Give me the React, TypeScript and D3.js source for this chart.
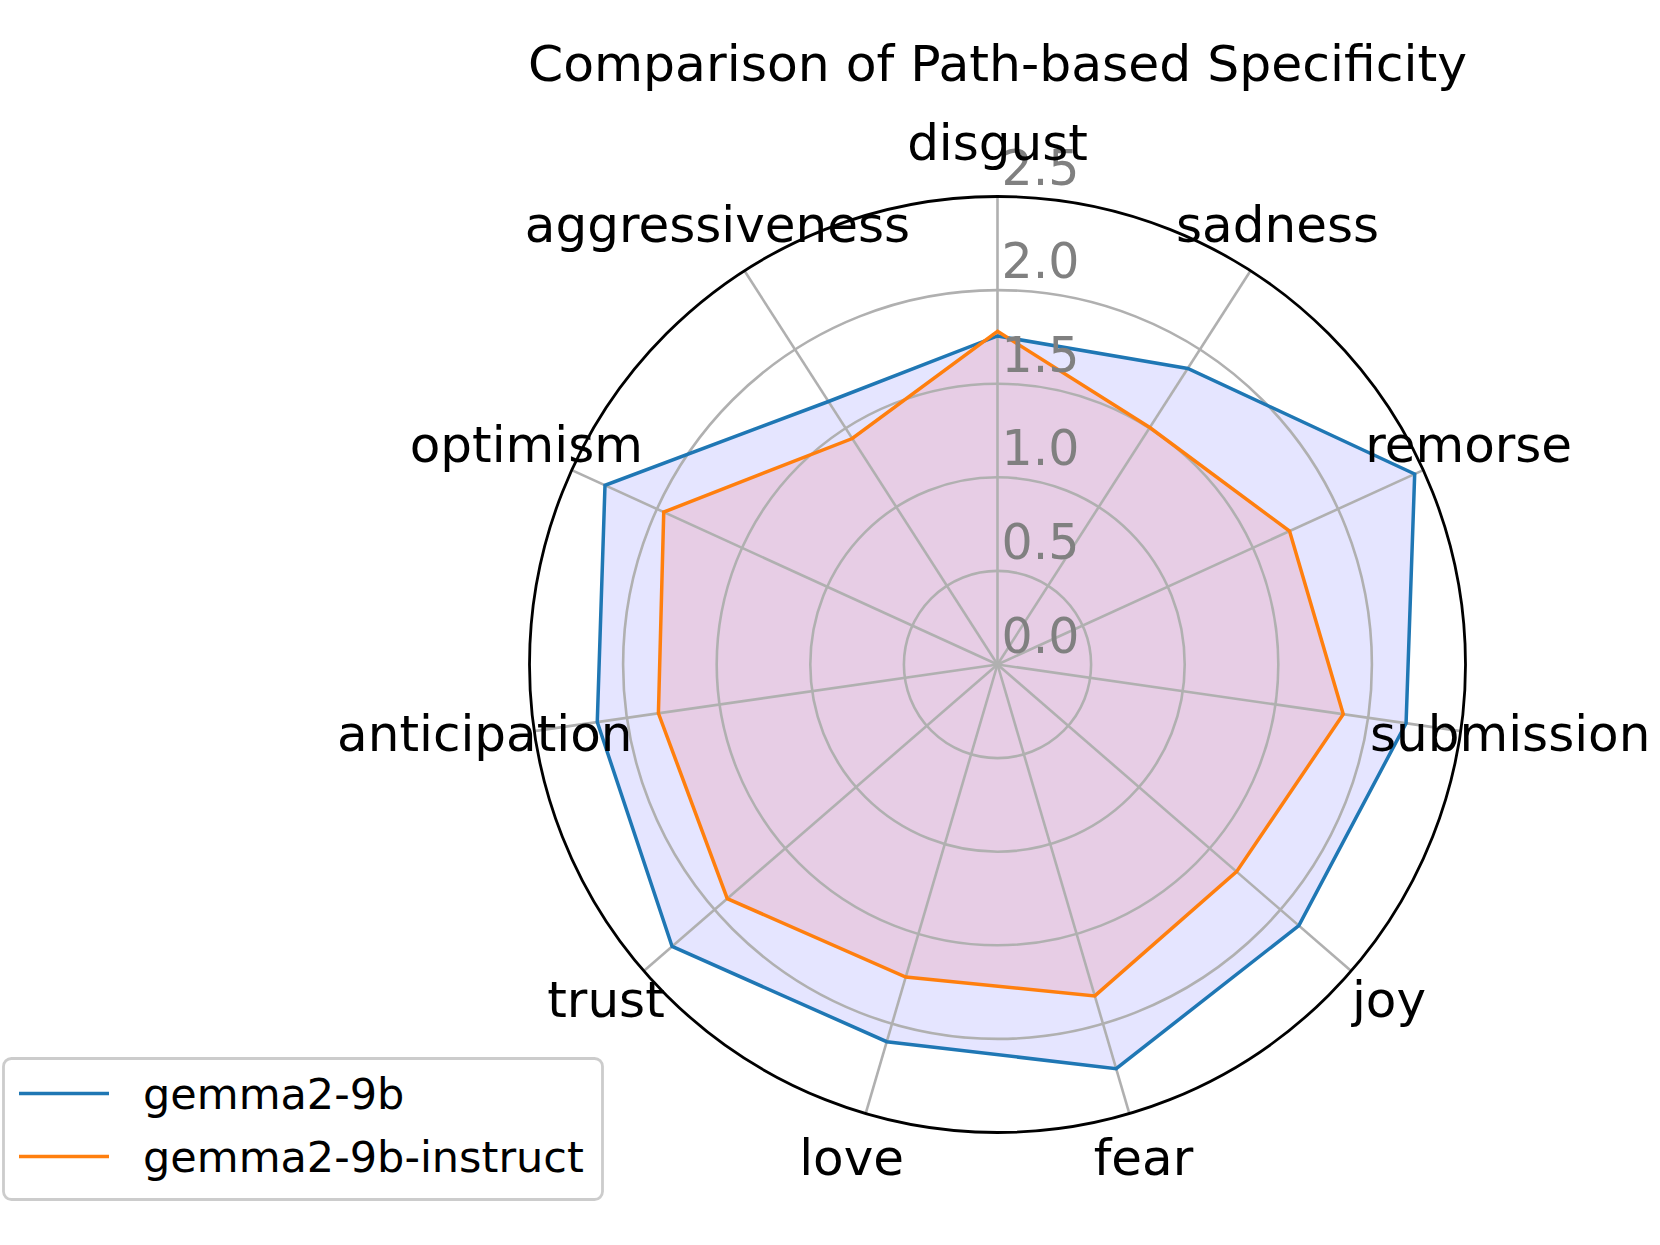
import React, { useRef, useEffect } from 'react';
import * as d3 from 'd3';

const WIDTH = 1660;
const HEIGHT = 1245;
const CX = 997.5;
const CY = 664.5;
const RADIUS = 468;
const FONT = 'DejaVu Sans, Liberation Sans, sans-serif';

const categories: string[] = [
  'disgust', 'sadness', 'remorse', 'submission', 'joy', 'fear',
  'love', 'trust', 'anticipation', 'optimism', 'aggressiveness',
];
const baseValues: number[] = [1.755, 1.88, 2.45, 2.205, 2.13, 2.25, 2.10, 2.30, 2.16, 2.305, 1.67];
const instructValues: number[] = [1.78, 1.505, 1.715, 1.866, 1.69, 1.845, 1.74, 1.91, 1.83, 1.96, 1.435];
const radialTicks: number[] = [0, 0.5, 1.0, 1.5, 2.0, 2.5];

const seriesList = [
  { name: 'gemma2-9b', values: baseValues, color: '#1f77b4', fill: 'blue' },
  { name: 'gemma2-9b-instruct', values: instructValues, color: '#ff7f0e', fill: 'red' },
];

export default function App() {
  const svgRef = useRef<SVGSVGElement>(null);

  useEffect(() => {
    if (!svgRef.current) return;
    const svg = d3.select(svgRef.current);
    svg.selectAll('*').remove();

    const rScale = d3.scaleLinear().domain([0, 2.5]).range([0, RADIUS]);
    const step = (2 * Math.PI) / categories.length;
    const angle = (i: number) => i * step;

    const g = svg.append('g').attr('transform', `translate(${CX},${CY})`);

    const radial = d3.lineRadial<number>()
      .angle((_, i) => angle(i))
      .radius(d => rScale(d))
      .curve(d3.curveLinearClosed);

    // fills (below the grid, like matplotlib patches)
    seriesList.forEach(s => {
      g.append('path')
        .datum(s.values)
        .attr('d', radial)
        .attr('fill', s.fill)
        .attr('fill-opacity', 0.1)
        .attr('stroke', 'none');
    });

    // grid rings
    g.append('g').selectAll('circle')
      .data(radialTicks.filter(t => t > 0 && t < 2.5))
      .join('circle')
      .attr('r', d => rScale(d))
      .attr('fill', 'none')
      .attr('stroke', '#b0b0b0')
      .attr('stroke-width', 2.6);

    // spokes
    g.append('g').selectAll('line')
      .data(categories)
      .join('line')
      .attr('x1', 0).attr('y1', 0)
      .attr('x2', (_, i) => rScale(2.5) * Math.sin(angle(i)))
      .attr('y2', (_, i) => -rScale(2.5) * Math.cos(angle(i)))
      .attr('stroke', '#b0b0b0')
      .attr('stroke-width', 2.6);

    // series outlines
    seriesList.forEach(s => {
      g.append('path')
        .datum(s.values)
        .attr('d', radial)
        .attr('fill', 'none')
        .attr('stroke', s.color)
        .attr('stroke-width', 3.5)
        .attr('stroke-linejoin', 'miter');
    });

    // outer frame
    g.append('circle')
      .attr('r', rScale(2.5))
      .attr('fill', 'none')
      .attr('stroke', '#000')
      .attr('stroke-width', 2.8);

    // radial tick labels
    g.append('g').selectAll('text')
      .data(radialTicks)
      .join('text')
      .attr('x', 4)
      .attr('y', d => -rScale(d) - 12)
      .attr('font-family', FONT)
      .attr('font-size', 49)
      .attr('fill', '#808080')
      .text(d => d.toFixed(1));

    // category labels
    const labelR = RADIUS + 50;
    g.append('g').selectAll('text')
      .data(categories)
      .join('text')
      .attr('x', (_, i) => labelR * Math.sin(angle(i)))
      .attr('y', (_, i) => -labelR * Math.cos(angle(i)) + 13)
      .attr('text-anchor', 'middle')
      .attr('font-family', FONT)
      .attr('font-size', 50)
      .attr('fill', '#000')
      .text(d => d);

    // title
    svg.append('text')
      .attr('x', CX).attr('y', 81)
      .attr('text-anchor', 'middle')
      .attr('font-family', FONT)
      .attr('font-size', 50.4)
      .attr('fill', '#000')
      .text('Comparison of Path-based Specificity');

    // legend
    const lg = svg.append('g');
    lg.append('rect')
      .attr('x', 3.5).attr('y', 1058.5)
      .attr('width', 599).attr('height', 141)
      .attr('rx', 8)
      .attr('fill', '#fff').attr('fill-opacity', 0.8)
      .attr('stroke', '#cccccc').attr('stroke-width', 2.8);
    const rowY = [1093.5, 1156.5];
    seriesList.forEach((s, i) => {
      lg.append('line')
        .attr('x1', 19).attr('x2', 109)
        .attr('y1', rowY[i]).attr('y2', rowY[i])
        .attr('stroke', s.color).attr('stroke-width', 3.5);
      lg.append('text')
        .attr('x', 143).attr('y', rowY[i] + 15)
        .attr('font-family', FONT)
        .attr('font-size', 43)
        .attr('fill', '#000')
        .text(s.name);
    });
  }, []);

  return (
    <svg
      ref={svgRef}
      width={WIDTH}
      height={HEIGHT}
      style={{ position: 'absolute', left: 0, top: 0, background: '#fff' }}
    />
  );
}
